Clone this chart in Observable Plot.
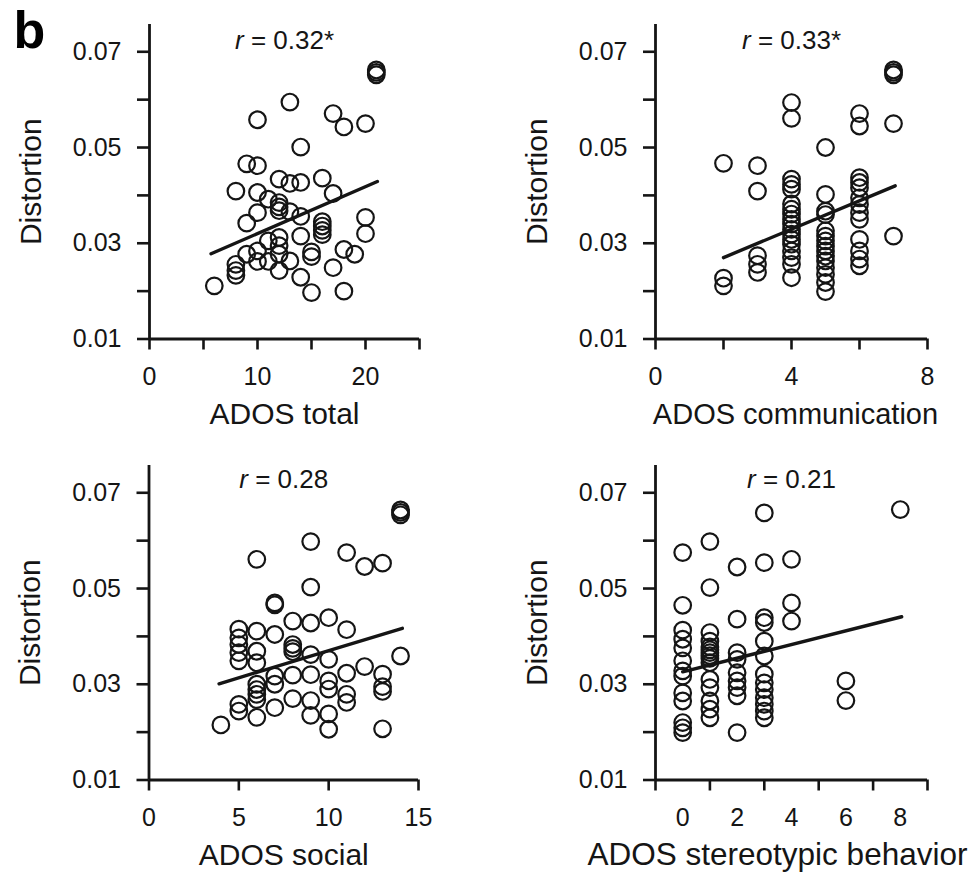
<!DOCTYPE html>
<html><head><meta charset="utf-8">
<script src="https://cdn.jsdelivr.net/npm/d3@7"></script>
<script src="https://cdn.jsdelivr.net/npm/@observablehq/plot@0.6"></script>
<style>
html,body{margin:0;padding:0;background:#fff;}
#wrap{position:relative;width:974px;height:876px;overflow:hidden;background:#fff;}
.panel{position:absolute;}
</style></head><body>
<div id="wrap"></div>
<script>
// ---- data: [ADOS score, distortion] ----
const totalPoints = [
  [21,.0662],[21,.0657],[21,.0652],
  [13,.0595],[10,.0558],[17,.0571],[18,.0543],[20,.0550],[14,.0501],
  [9,.0466],[10,.0462],
  [12,.0434],[13,.0425],[14,.0427],[16,.0436],
  [8,.0409],[10,.0406],[17,.0404],
  [11,.0392],[12,.0385],[12,.0376],[12,.0368],[10,.0364],
  [13,.0366],[14,.0356],[9,.0342],
  [16,.0345],[16,.0336],[16,.0327],[16,.0318],
  [20,.0354],[20,.0320],
  [14,.0315],[12,.0312],[11,.0305],[12,.0295],[10,.0284],
  [9,.0277],[12,.0277],
  [15,.0282],[15,.0272],[18,.0287],[19,.0277],
  [8,.0256],[8,.0243],[8,.0233],
  [10,.0262],[11,.0262],[13,.0263],[12,.0243],
  [14,.0229],[17,.0249],[15,.0197],[18,.0200],[6,.0211]
];
const commPoints = [
  [2,.0467],[2,.0227],[2,.0211],
  [3,.0462],[3,.0409],[3,.0274],[3,.0256],[3,.0239],
  [4,.0594],[4,.0561],[4,.0434],[4,.0423],[4,.0413],[4,.0382],[4,.0371],[4,.0361],[4,.0350],
  [4,.0340],[4,.0329],[4,.0319],[4,.0308],[4,.0298],[4,.0284],[4,.0270],[4,.0256],[4,.0228],
  [5,.0500],[5,.0402],[5,.0367],[5,.0360],[5,.0326],[5,.0315],[5,.0305],[5,.0294],
  [5,.0284],[5,.0273],[5,.0263],[5,.0249],[5,.0235],[5,.0218],[5,.0199],
  [6,.0571],[6,.0545],[6,.0437],[6,.0427],[6,.0416],[6,.0395],[6,.0381],[6,.0364],
  [6,.0350],[6,.0308],[6,.0284],[6,.0267],[6,.0253],
  [7,.0662],[7,.0657],[7,.0652],[7,.0550],[7,.0315]
];
const socialPoints = [
  [14,.0664],[14,.0659],[14,.0654],[14,.0359],
  [6,.0561],[9,.0598],[9,.0503],[11,.0575],[12,.0546],[13,.0553],
  [7,.0470],[7,.0466],
  [5,.0415],[5,.0397],[5,.0383],[5,.0366],[5,.0349],[5,.0258],[5,.0244],
  [4,.0215],
  [6,.0411],[6,.0369],[6,.0345],[6,.0300],[6,.0289],[6,.0279],[6,.0268],[6,.0231],
  [7,.0404],[7,.0317],[7,.0300],[7,.0251],
  [8,.0432],[8,.0383],[8,.0375],[8,.0368],[8,.0319],[8,.0270],
  [9,.0428],[9,.0362],[9,.0320],[9,.0266],[9,.0235],
  [10,.0439],[10,.0352],[10,.0307],[10,.0290],[10,.0238],[10,.0206],
  [11,.0414],[11,.0323],[11,.0279],[11,.0262],
  [12,.0337],
  [13,.0321],[13,.0295],[13,.0285],[13,.0207]
];
const stereoPoints = [
  [0,.0575],[0,.0465],[0,.0413],[0,.0394],[0,.0376],[0,.0349],[0,.0328],[0,.0317],
  [0,.0282],[0,.0265],[0,.0220],[0,.0209],[0,.0199],
  [1,.0598],[1,.0502],[1,.0408],[1,.0390],[1,.0378],[1,.0372],[1,.0366],[1,.0360],
  [1,.0354],[1,.0345],[1,.0310],[1,.0293],[1,.0265],[1,.0248],[1,.0230],
  [2,.0545],[2,.0436],[2,.0366],[2,.0352],[2,.0324],[2,.0307],[2,.0293],[2,.0276],[2,.0199],
  [3,.0658],[3,.0554],[3,.0439],[3,.0429],[3,.0390],[3,.0359],[3,.0321],[3,.0303],
  [3,.0289],[3,.0272],[3,.0258],[3,.0244],[3,.0230],
  [4,.0561],[4,.0470],[4,.0432],
  [6,.0307],[6,.0266],
  [8,.0665]
];
// regression line end points
const totalFit  = [[5.7,.0278],[21.1,.0429]];
const commFit   = [[2,.0270],[7.05,.0420]];
const socialFit = [[3.9,.0301],[14.1,.0417]];
const stereoFit = [[0,.0326],[8.05,.0441]];
// correlations
const rLabels = ["r = 0.32*","r = 0.33*","r = 0.28","r = 0.21"];
const xLabels = ["ADOS total","ADOS communication","ADOS social","ADOS stereotypic behavior"];
const yLabel = "Distortion";
// ticks
const yMajor = [0.01,0.03,0.05,0.07];
const yMinor = [0.02,0.04,0.06];
const totalTicks = [0,5,10,15,20,25], totalTickLabels = [0,10,20];
const commTicks = [0,2,4,6,8], commTickLabels = [0,4,8];
const socialTicks = [0,5,10,15], socialTickLabels = [0,5,10,15];
const stereoTicks = [-1,1,3,5,7,9], stereoTickLabels = [0,2,4,6,8];

const INK = "#151515";
const FONT = "'Liberation Sans', Arial, Helvetica, sans-serif";

function panel(o) {
  const marks = [
    Plot.ruleX([o.xDomain[0]], {stroke: INK, strokeWidth: 2.8}),
    Plot.ruleY([0.01], {stroke: INK, strokeWidth: 2.8}),
    Plot.axisY({ticks: yMajor, tickSize: 12, tickPadding: 16, tickFormat: d => d.toFixed(2), stroke: INK, fill: INK, strokeWidth: 2.6, fontSize: 25, label: null}),
    Plot.axisY({ticks: yMinor, tickSize: 12, tickFormat: () => "", stroke: INK, strokeWidth: 2.6, label: null}),
    Plot.axisX({ticks: o.xTicks, tickSize: 11, tickPadding: 17, tickFormat: d => (o.xTickLabels.includes(d) && o.tickedLabels ? String(d) : ""), stroke: INK, fill: INK, strokeWidth: 2.6, fontSize: 25, label: null}),
  ];
  if (!o.tickedLabels) {
    marks.push(Plot.axisX({ticks: o.xTickLabels, tickSize: 0, tickPadding: 28, tickFormat: d => String(d), fill: INK, fontSize: 25, label: null}));
  }
  marks.push(
    Plot.dot(o.points, {x: d => d[0], y: d => d[1], r: 8.3, stroke: INK, strokeWidth: 2.2, fill: "none"}),
    Plot.line(o.fit, {x: d => d[0], y: d => d[1], stroke: INK, strokeWidth: 3.4}),
    Plot.text([o.xLabel], {frameAnchor: "bottom", textAnchor: "middle", lineAnchor: "bottom", dy: 85, dx: o.labelDx || 0, fontSize: o.xFont || 30, fill: INK}),
    Plot.text([yLabel], {frameAnchor: "left", textAnchor: "middle", rotate: -90, lineAnchor: "bottom", dx: -109, fontSize: 30, fill: INK}),
    Plot.text([o.r], {frameAnchor: "top", textAnchor: "middle", lineAnchor: "bottom", dy: o.rDy, fontSize: 26, fill: INK})
  );
  if (o.tag) marks.push(Plot.text([o.tag], {frameAnchor: "top-left", textAnchor: "start", lineAnchor: "bottom", dx: 13 - o.marginLeft, dy: 23, fontSize: 52, fontWeight: "bold", fill: "#000"}));
  const svg = Plot.plot({
    width: 487, height: 436,
    marginLeft: o.marginLeft, marginRight: o.marginRight, marginTop: 24, marginBottom: 97.5,
    x: {domain: o.xDomain},
    y: {domain: [0.01, 0.0757]},
    style: {fontFamily: FONT, fontSize: "25px", color: INK, background: "transparent", overflow: "visible"},
    marks
  });
  // italic r
  svg.querySelectorAll("text").forEach(t => {
    if (t.textContent.startsWith("r = ")) {
      const rest = t.textContent.slice(1);
      t.textContent = "";
      const ts = document.createElementNS("http://www.w3.org/2000/svg", "tspan");
      ts.setAttribute("font-style", "italic");
      ts.textContent = "r";
      t.append(ts, rest);
    }
  });
  const div = document.createElement("div");
  div.className = "panel";
  div.style.left = o.left + "px";
  div.style.top = o.top + "px";
  div.append(svg);
  document.getElementById("wrap").append(div);
}

panel({left: 0, top: 0, marginLeft: 149, marginRight: 68, xDomain: [0, 25], xTicks: totalTicks, xTickLabels: totalTickLabels, tickedLabels: true,
  points: totalPoints, fit: totalFit, xLabel: xLabels[0], r: rLabels[0], rDy: 24, tag: "b"});
panel({left: 487, top: 0, marginLeft: 168, marginRight: 47, xDomain: [0, 8], xTicks: commTicks, xTickLabels: commTickLabels, tickedLabels: true,
  points: commPoints, fit: commFit, xLabel: xLabels[1], r: rLabels[1], rDy: 24, labelDx: 4, xFont: 29});
panel({left: 0, top: 441, marginLeft: 148.5, marginRight: 69, xDomain: [0, 15], xTicks: socialTicks, xTickLabels: socialTickLabels, tickedLabels: true,
  points: socialPoints, fit: socialFit, xLabel: xLabels[2], r: rLabels[2], rDy: 22});
panel({left: 487, top: 441, marginLeft: 168, marginRight: 47, xDomain: [-1, 9], xTicks: stereoTicks, xTickLabels: stereoTickLabels, tickedLabels: false,
  points: stereoPoints, fit: stereoFit, xLabel: xLabels[3], r: rLabels[3], rDy: 22, labelDx: -14, xFont: 31.5});
</script>
</body></html>
